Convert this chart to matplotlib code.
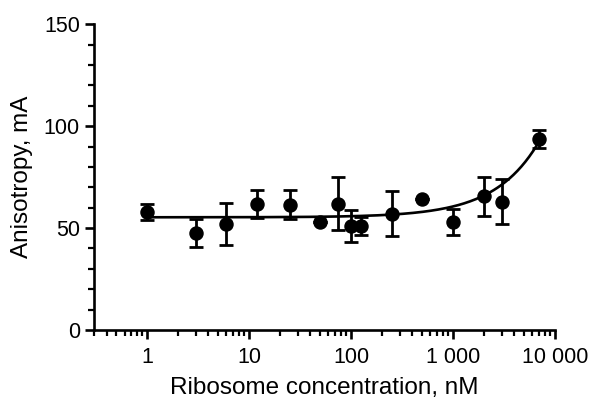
import numpy as np
import matplotlib.pyplot as plt
from matplotlib.ticker import FixedLocator, LogLocator, NullFormatter, MultipleLocator

plt.rcParams['font.family'] = ['Liberation Sans', 'DejaVu Sans']

# data
conc = [1, 3, 6, 12, 25, 50, 75, 100, 125, 250, 500, 1000, 2000, 3000, 7000]
aniso = [58, 47.5, 52, 61.8, 61.5, 53, 62, 51, 51, 57, 64.3, 53, 65.5, 63, 93.8]
err = [4, 7, 10.5, 7, 7, 0, 13, 8, 4.5, 11, 0, 6.5, 9.5, 11, 4.5]

# fitted line (baseline + linear rise)
fit_base = 55.3
fit_slope = 0.0053

xticks = [1, 10, 100, 1000, 10000]
xticklabels = ['1', '10', '100', '1 000', '10 000']

fig = plt.figure(figsize=(5.94, 4.03), dpi=100)
ax = fig.add_axes([0.158, 0.181, 0.776, 0.759])

xf = np.logspace(0, np.log10(7000), 200)
ax.plot(xf, fit_base + fit_slope * xf, color='black', lw=1.9, zorder=2)

ax.errorbar(conc, aniso, yerr=err, fmt='o', color='black', ms=9.4,
            elinewidth=2.0, capsize=4.7, capthick=2.0, zorder=3)

ax.set_xscale('log')
ax.set_xlim(0.3, 10000)
ax.set_ylim(0, 150)

ax.xaxis.set_major_locator(FixedLocator(xticks))
ax.set_xticklabels(xticklabels)
ax.xaxis.set_minor_locator(LogLocator(base=10, subs=np.arange(2, 10)))
ax.xaxis.set_minor_formatter(NullFormatter())
ax.yaxis.set_major_locator(MultipleLocator(50))
ax.yaxis.set_minor_locator(MultipleLocator(10))

for s in ['top', 'right']:
    ax.spines[s].set_visible(False)
for s in ['left', 'bottom']:
    ax.spines[s].set_linewidth(1.9)

ax.tick_params(which='major', length=6.5, width=1.9, labelsize=15.5, direction='out')
ax.tick_params(axis='x', which='major', pad=6)
ax.tick_params(which='minor', length=4, width=1.6, direction='out')

ax.set_xlabel('Ribosome concentration, nM', fontsize=17.5, labelpad=6)
ax.set_ylabel('Anisotropy, mA', fontsize=17.5, labelpad=8)

fig.savefig('out.png', dpi=100)
